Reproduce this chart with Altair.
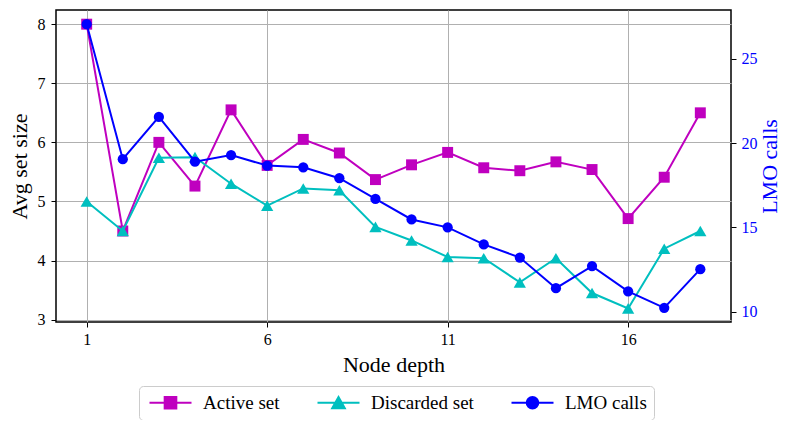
import altair as alt
import pandas as pd

depth = list(range(1, 19))
active = [8.0, 4.5, 6.0, 5.26, 6.55, 5.61, 6.05, 5.82, 5.37, 5.62, 5.83, 5.57, 5.52, 5.67, 5.54, 4.71, 5.41, 6.50]
discarded = [5.0, 4.5, 5.74, 5.75, 5.3, 4.93, 5.22, 5.19, 4.57, 4.34, 4.06, 4.04, 3.63, 4.04, 3.45, 3.19, 4.2, 4.5]
lmo = [27.07, 19.05, 21.56, 18.9, 19.29, 18.67, 18.57, 17.92, 16.69, 15.47, 15.0, 13.99, 13.21, 11.39, 12.7, 11.2, 10.22, 12.52]

series_names = ["Active set", "Discarded set", "LMO calls"]
series_colors = ["#bf00bf", "#00bfbf", "#0000ff"]
x_ticks = [1, 6, 11, 16]
left_ticks = [3, 4, 5, 6, 7, 8]
right_ticks = [10, 15, 20, 25]

left_df = pd.DataFrame({
    "depth": depth + depth,
    "value": active + discarded,
    "series": ["Active set"] * len(depth) + ["Discarded set"] * len(depth),
})
right_df = pd.DataFrame({"depth": depth, "value": lmo, "series": ["LMO calls"] * len(depth)})
legend_df = pd.DataFrame({"series": series_names})

FONT = "Liberation Serif"

x_enc = alt.X("depth:Q",
              scale=alt.Scale(domain=[0.15, 18.85], nice=False, zero=False),
              axis=alt.Axis(values=x_ticks, title="Node depth", grid=True,
                            labelPadding=4, titlePadding=7))
yL = alt.Y("value:Q",
           scale=alt.Scale(domain=[2.96, 8.24], nice=False, zero=False),
           axis=alt.Axis(values=left_ticks, title="Avg set size", orient="left", grid=True,
                         labelPadding=6, titlePadding=6))
yR = alt.Y("value:Q",
           scale=alt.Scale(domain=[9.38, 27.91], nice=False, zero=False),
           axis=alt.Axis(values=right_ticks, title="LMO calls", orient="right", grid=False,
                         labelColor="#0000ff", titleColor="#0000ff", titleAngle=270,
                         titleBaseline="top", labelPadding=5, titlePadding=2))

base_l = alt.Chart(left_df)
base_r = alt.Chart(right_df)

def series_layers(base, name, col, shape, size, y):
    b = base.transform_filter(alt.datum.series == name)
    line = b.mark_line(strokeWidth=2, color=col).encode(x=x_enc, y=y)
    pts = b.mark_point(shape=shape, filled=True, size=size, opacity=1, color=col).encode(x=x_enc, y=y)
    return [line, pts]

# legend glyphs: a short line with the marker in its middle (unit = 6 px)
legend_paths = [
    "M-1,0H6M1.53,-0.97H3.47V0.97H1.53Z",
    "M-1,0H6M2.5,-0.95L3.55,0.9H1.45Z",
    "M-1,0H6M3.47,0A0.97,0.97,0,1,1,1.53,0A0.97,0.97,0,1,1,3.47,0Z",
]
leg = alt.Legend(orient="none", legendX=83, legendY=376, direction="horizontal", columns=3,
                 title=None, labelFont=FONT, labelFontSize=19, labelColor="black",
                 symbolSize=144, symbolStrokeWidth=2, symbolOpacity=1,
                 labelOffset=38, columnPadding=33, padding=7,
                 strokeColor="#cccccc", fillColor="white", cornerRadius=4)
legend_layer = alt.Chart(legend_df).mark_point(strokeWidth=2).encode(
    fill=alt.Fill("series:N", scale=alt.Scale(domain=series_names, range=series_colors), legend=leg),
    stroke=alt.Stroke("series:N", scale=alt.Scale(domain=series_names, range=series_colors), legend=leg),
    shape=alt.Shape("series:N", scale=alt.Scale(domain=series_names, range=legend_paths), legend=leg),
    opacity=alt.value(0),
)

left = alt.layer(
    *series_layers(base_l, "Active set", series_colors[0], "square", 120, yL),
    *series_layers(base_l, "Discarded set", series_colors[1], "triangle-up", 150, yL),
    legend_layer,
)
right = alt.layer(*series_layers(base_r, "LMO calls", series_colors[2], "circle", 105, yR))

chart = alt.layer(left, right).resolve_scale(y="independent").properties(
    width=675, height=312,
    autosize=alt.AutoSizeParams(type="none"),
    padding={"left": 48, "top": 2, "right": 51, "bottom": 98},
).configure_view(
    stroke="black", strokeWidth=1.5
).configure_axis(
    labelFont=FONT, titleFont=FONT, labelFontSize=16, titleFontSize=22,
    titleFontWeight="normal", labelColor="black", titleColor="black",
    gridColor="#b0b0b0", gridWidth=1, tickColor="black", tickSize=5, tickWidth=1,
    domain=False,
)

chart.save("out.html", embed_options={"renderer": "svg", "actions": False})
